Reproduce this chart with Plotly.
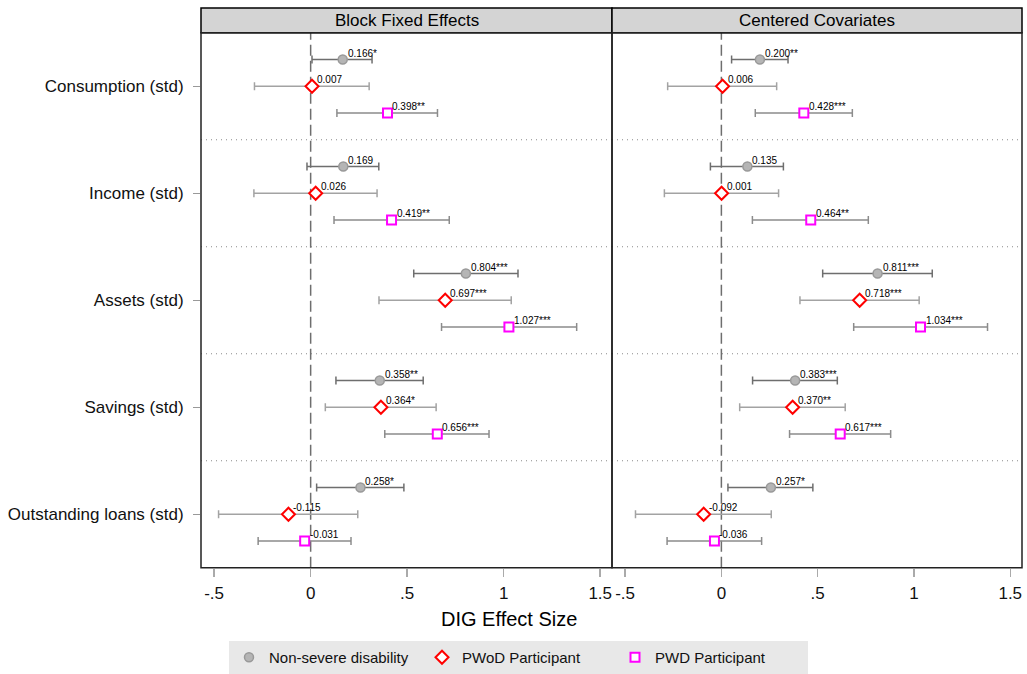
import plotly.graph_objects as go

categories = ["Consumption (std)", "Income (std)", "Assets (std)", "Savings (std)", "Outstanding loans (std)"]
panels = ["Block Fixed Effects", "Centered Covariates"]
series_names = ["Non-severe disability", "PWoD Participant", "PWD Participant"]
x_tickvals = [-0.5, 0, 0.5, 1, 1.5]
x_ticktext = ["-.5", "0", ".5", "1", "1.5"]

# Panel 1: Block Fixed Effects
bfe_ns = [0.166, 0.169, 0.804, 0.358, 0.258]
bfe_ns_lo = [0.007, -0.019, 0.534, 0.131, 0.031]
bfe_ns_hi = [0.318, 0.353, 1.074, 0.583, 0.483]
bfe_ns_stars = ["*", "", "***", "**", "*"]

bfe_pwod = [0.007, 0.026, 0.697, 0.364, -0.115]
bfe_pwod_lo = [-0.291, -0.294, 0.354, 0.076, -0.477]
bfe_pwod_hi = [0.303, 0.344, 1.039, 0.650, 0.244]
bfe_pwod_stars = ["", "", "***", "*", ""]

bfe_pwd = [0.398, 0.419, 1.027, 0.656, -0.031]
bfe_pwd_lo = [0.136, 0.121, 0.678, 0.384, -0.272]
bfe_pwd_hi = [0.657, 0.718, 1.378, 0.924, 0.209]
bfe_pwd_stars = ["**", "**", "***", "***", ""]

# Panel 2: Centered Covariates
cc_ns = [0.200, 0.135, 0.811, 0.383, 0.257]
cc_ns_lo = [0.053, -0.057, 0.526, 0.162, 0.034]
cc_ns_hi = [0.346, 0.322, 1.095, 0.602, 0.475]
cc_ns_stars = ["**", "", "***", "***", "*"]

cc_pwod = [0.006, 0.001, 0.718, 0.370, -0.092]
cc_pwod_lo = [-0.279, -0.296, 0.408, 0.095, -0.446]
cc_pwod_hi = [0.287, 0.297, 1.027, 0.643, 0.259]
cc_pwod_stars = ["", "", "***", "**", ""]

cc_pwd = [0.428, 0.464, 1.034, 0.617, -0.036]
cc_pwd_lo = [0.176, 0.161, 0.687, 0.354, -0.282]
cc_pwd_hi = [0.680, 0.763, 1.382, 0.879, 0.209]
cc_pwd_stars = ["***", "**", "***", "***", ""]

W, H = 1027, 674
FONT = "Liberation Sans, Arial, Helvetica, sans-serif"

def px_x(p):
    return p / W

def px_y(p):
    return 1 - p / H

panel_x = [(201, 612), (612, 1022)]
plot_top, plot_bot = 33, 572
strip_top = 8

styles = [
    dict(symbol="circle", size=9, color="#b5b5b5", line=dict(color="#999999", width=1.5), err="#6e6e6e", offset=-0.25),
    dict(symbol="diamond", size=10, color="white", line=dict(color="#ff0000", width=2), err="#a3a3a3", offset=0.0),
    dict(symbol="square", size=9, color="white", line=dict(color="#ff00ff", width=2), err="#8c8c8c", offset=0.25),
]

panel_data = [
    [(bfe_ns, bfe_ns_lo, bfe_ns_hi, bfe_ns_stars),
     (bfe_pwod, bfe_pwod_lo, bfe_pwod_hi, bfe_pwod_stars),
     (bfe_pwd, bfe_pwd_lo, bfe_pwd_hi, bfe_pwd_stars)],
    [(cc_ns, cc_ns_lo, cc_ns_hi, cc_ns_stars),
     (cc_pwod, cc_pwod_lo, cc_pwod_hi, cc_pwod_stars),
     (cc_pwd, cc_pwd_lo, cc_pwd_hi, cc_pwd_stars)],
]

fig = go.Figure()
annotations = []
shapes = []

for pi, pdata in enumerate(panel_data):
    xa = "x" if pi == 0 else "x2"
    ya = "y" if pi == 0 else "y2"
    for si, (vals, lo, hi, stars) in enumerate(pdata):
        st = styles[si]
        ys = [i + st["offset"] for i in range(len(categories))]
        fig.add_trace(go.Scatter(
            x=vals, y=ys, mode="markers", name=series_names[si],
            xaxis=xa, yaxis=ya, showlegend=(pi == 0),
            marker=dict(symbol=st["symbol"], size=st["size"], color=st["color"], line=st["line"]),
            error_x=dict(type="data", symmetric=False,
                         array=[h - v for h, v in zip(hi, vals)],
                         arrayminus=[v - l for v, l in zip(vals, lo)],
                         color=st["err"], thickness=1.5, width=4),
            hoverinfo="skip",
        ))
        for v, yv, s in zip(vals, ys, stars):
            annotations.append(dict(
                x=v, y=yv, xref=xa, yref=ya, text=f"{v:.3f}{s}", showarrow=False,
                xanchor="left", yanchor="bottom", xshift=3, yshift=-1,
                font=dict(family=FONT, size=10, color="black"),
            ))
    # separators
    for sep in [0.5, 1.5, 2.5, 3.5]:
        shapes.append(dict(type="line", xref=f"{xa} domain", yref=ya, x0=0, x1=1, y0=sep, y1=sep,
                           line=dict(color="#8a8a8a", width=1, dash="1px,4px"), layer="below"))
    # zero line
    shapes.append(dict(type="line", xref=xa, yref=f"{ya} domain", x0=0, x1=0, y0=0, y1=1,
                       line=dict(color="#6e6e6e", width=1.5, dash="11px,5px"), layer="below"))
    x0, x1 = panel_x[pi]
    # header strip
    shapes.append(dict(type="rect", xref="paper", yref="paper",
                       x0=px_x(x0), x1=px_x(x1), y0=px_y(plot_top), y1=px_y(strip_top),
                       fillcolor="#d4d4d4", line=dict(color="black", width=1.5), layer="above"))
    annotations.append(dict(x=px_x((x0 + x1) / 2), y=px_y((strip_top + plot_top) / 2), xref="paper", yref="paper",
                            text=panels[pi], showarrow=False, xanchor="center", yanchor="middle",
                            font=dict(family=FONT, size=17, color="black")))
    # plot frame
    shapes.append(dict(type="rect", xref="paper", yref="paper",
                       x0=px_x(x0), x1=px_x(x1), y0=px_y(plot_bot), y1=px_y(plot_top),
                       line=dict(color="#222222", width=1.5), layer="above"))

annotations.append(dict(x=px_x(509), y=px_y(624), xref="paper", yref="paper", text="DIG Effect Size",
                        showarrow=False, xanchor="center", yanchor="middle",
                        font=dict(family=FONT, size=20, color="black")))

xcommon = dict(range=[-0.568, 1.561], tickvals=x_tickvals, ticktext=x_ticktext, ticks="outside",
               ticklen=8, tickcolor="#aaaaaa", tickwidth=1.5, showgrid=False, zeroline=False,
               tickfont=dict(family=FONT, size=17, color="#111111"), ticklabelstandoff=2,
               showline=False)
ycommon = dict(range=[4.5, -0.5], showgrid=False, zeroline=False, showline=False,
               domain=[px_y(plot_bot), px_y(plot_top)])

fig.update_layout(
    width=W, height=H,
    margin=dict(l=0, r=0, t=0, b=0),
    paper_bgcolor="white", plot_bgcolor="white",
    font=dict(family=FONT, color="black"),
    xaxis=dict(domain=[px_x(panel_x[0][0]), px_x(panel_x[0][1])], anchor="y", **xcommon),
    xaxis2=dict(domain=[px_x(panel_x[1][0]), px_x(panel_x[1][1])], anchor="y2", **xcommon),
    yaxis=dict(anchor="x", tickvals=list(range(len(categories))), ticktext=categories,
               ticks="outside", ticklen=7, tickcolor="#999999", tickwidth=1.5,
               tickfont=dict(family=FONT, size=17, color="#111111"), ticklabelstandoff=6, **ycommon),
    yaxis2=dict(anchor="x2", showticklabels=False, ticks="", **ycommon),
    shapes=shapes,
    annotations=annotations,
    legend=dict(orientation="h", x=px_x(229), y=px_y(646), xanchor="left", yanchor="top",
                bgcolor="#e8e8e8", font=dict(family=FONT, size=15, color="#111111"),
                entrywidth=148, entrywidthmode="pixels",
                itemclick=False, itemdoubleclick=False),
    showlegend=True,
)

fig.write_html("out.html", config={"displayModeBar": False, "staticPlot": True},
               post_script="document.body.style.margin='0';document.body.style.overflow='hidden';")
